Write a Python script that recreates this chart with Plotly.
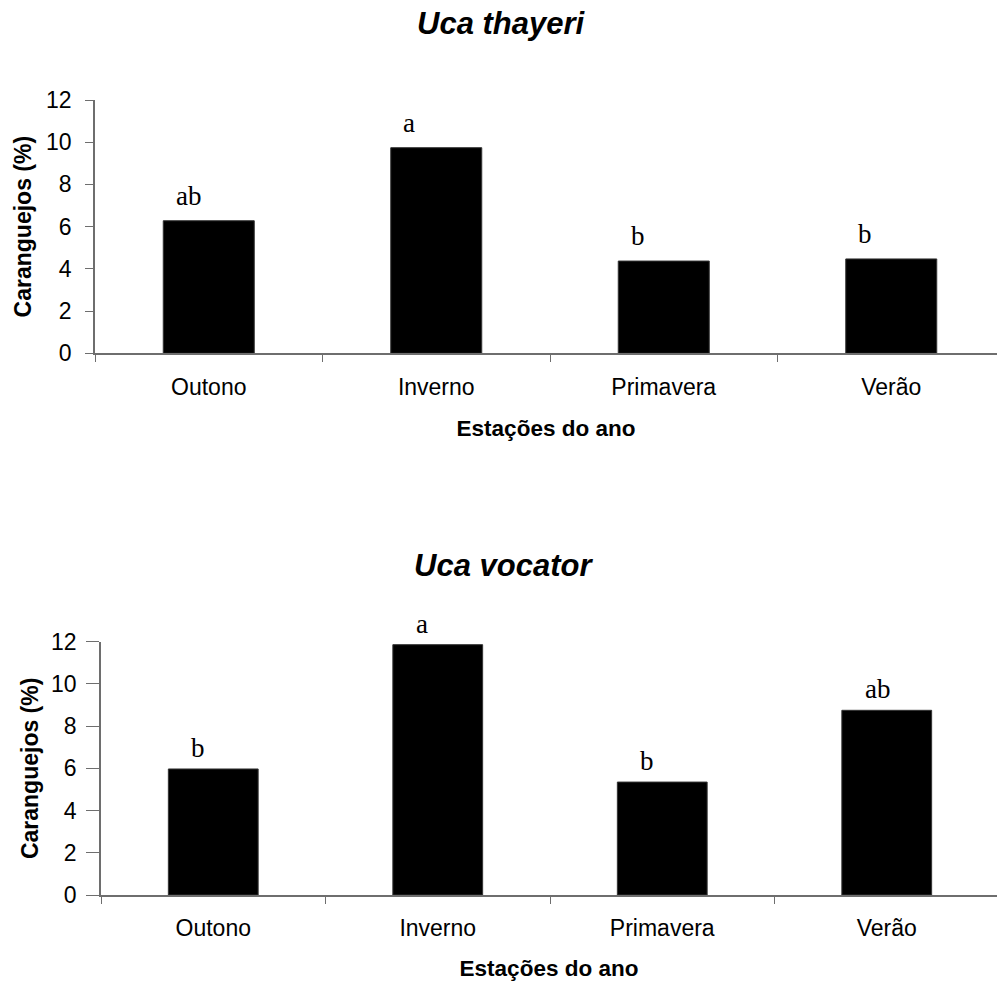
import plotly.graph_objects as go

# Seasonal share of crabs per species
seasons = ["Outono", "Inverno", "Primavera", "Verão"]
thayeri_pct = [6.28, 9.74, 4.37, 4.47]
thayeri_groups = ["ab", "a", "b", "b"]
vocator_pct = [5.97, 11.86, 5.35, 8.75]
vocator_groups = ["b", "a", "b", "ab"]

species = ["Uca thayeri", "Uca vocator"]
y_ticks = [0, 2, 4, 6, 8, 10, 12]

W, H = 997, 989
AXIS_COLOR = "#6e6e6e"
SANS = "Liberation Sans, Arial, sans-serif"
SERIF = "Liberation Serif, Times New Roman, serif"


def py(px):
    """Convert a pixel row (from the top) into a paper fraction."""
    return 1 - px / H


fig = go.Figure()

fig.add_trace(go.Bar(x=seasons, y=thayeri_pct, width=0.4,
                     marker=dict(color="black", line=dict(color="#333", width=1)),
                     xaxis="x", yaxis="y", showlegend=False, hoverinfo="x+y"))
fig.add_trace(go.Bar(x=seasons, y=vocator_pct, width=0.4,
                     marker=dict(color="black", line=dict(color="#333", width=1)),
                     xaxis="x2", yaxis="y2", showlegend=False, hoverinfo="x+y"))

xaxis_common = dict(
    type="category", showline=True, linecolor=AXIS_COLOR, linewidth=1.5,
    ticks="outside", tickson="boundaries", ticklen=7, tickcolor=AXIS_COLOR,
    tickfont=dict(family=SANS, size=23, color="black"), ticklabelstandoff=12,
    showgrid=False, zeroline=False, fixedrange=True, automargin=False,
)
yaxis_common = dict(
    range=[0, 12], tickvals=y_ticks, showline=True, linecolor=AXIS_COLOR,
    linewidth=1.5, ticks="outside", tickcolor=AXIS_COLOR,
    tickfont=dict(family=SANS, size=23, color="black"),
    showgrid=False, zeroline=False, fixedrange=True, automargin=False,
)
xtitle = dict(text="<b>Estações do ano</b>", font=dict(family=SANS, size=22.5, color="black"))
ytitle = dict(text="<b>Caranguejos (%)</b>", font=dict(family=SANS, size=23, color="black"))

fig.update_layout(
    width=W, height=H, margin=dict(l=0, r=0, t=0, b=0, autoexpand=False),
    paper_bgcolor="white", plot_bgcolor="white", bargap=0.6,
    xaxis=dict(xaxis_common, domain=[95 / W, 1], range=[-0.5, -0.5 + (W - 95) / 227.5],
               anchor="y", title=dict(xtitle, standoff=22)),
    yaxis=dict(yaxis_common, domain=[py(353.3), py(100)], anchor="x", ticklen=8,
               ticklabelstandoff=9, title=dict(ytitle, standoff=8)),
    xaxis2=dict(xaxis_common, domain=[101 / W, 1], range=[-0.5, -0.5 + (W - 101) / 224.5],
                anchor="y2", title=dict(xtitle, standoff=20)),
    yaxis2=dict(yaxis_common, domain=[py(895), py(641.7)], anchor="x2", ticklen=13,
                ticklabelstandoff=5, title=dict(ytitle, standoff=6)),
)

annotations = []
# Species titles
for name, ycen, xcen in zip(species, [23, 565], [502, 503]):
    annotations.append(dict(
        text=f"<b><i>{name}</i></b>", x=xcen / W, y=py(ycen), xref="paper", yref="paper",
        xanchor="center", yanchor="middle", showarrow=False,
        font=dict(family=SANS, size=31, color="black"),
    ))

# Significance letters above bars
for vals, groups, xr, yr, xs, ys in [
    (thayeri_pct, thayeri_groups, "x", "y", -35, 8),
    (vocator_pct, vocator_groups, "x2", "y2", -24, 4),
]:
    for season, v, g in zip(seasons, vals, groups):
        annotations.append(dict(
            text=g, x=season, y=v, xref=xr, yref=yr, xanchor="left", yanchor="bottom",
            xshift=xs, yshift=ys, showarrow=False,
            font=dict(family=SERIF, size=27, color="black"),
        ))

fig.update_layout(annotations=annotations)

fig.write_html("out.html")
